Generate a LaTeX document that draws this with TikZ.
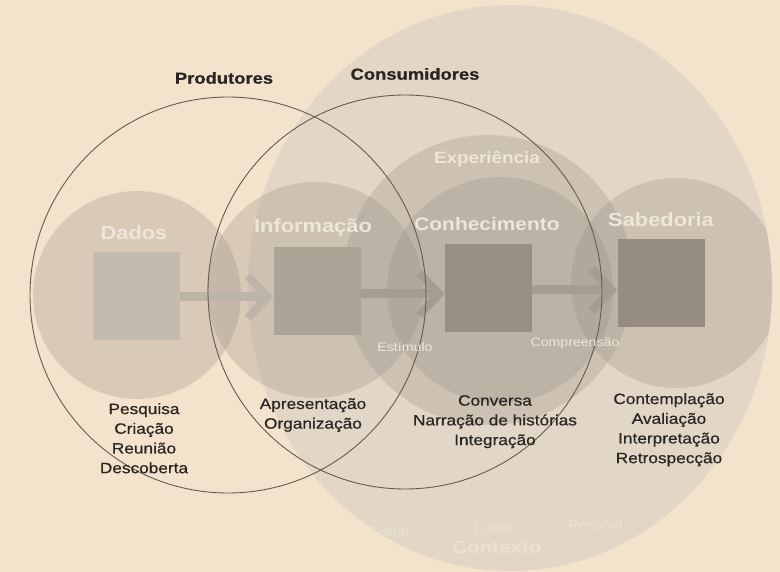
\documentclass[tikz,border=0pt]{standalone}
\usepackage{fontspec}
\setmainfont[FakeStretch=1.15]{Liberation Sans}
\usetikzlibrary{arrows.meta}
\definecolor{bgc}{HTML}{F3E3CC}
\definecolor{ctxc}{HTML}{E2D6C6}
\definecolor{discc}{RGB}{150,140,130}
\definecolor{sqA}{HTML}{C4BAAE}
\definecolor{sqB}{HTML}{ADA296}
\definecolor{sqC}{HTML}{988E84}
\definecolor{sqD}{HTML}{968C82}
\definecolor{arrc}{HTML}{A69C90}
\definecolor{arrl}{HTML}{BDB3A7}
\definecolor{ringc}{RGB}{100,90,80}
\definecolor{darktext}{HTML}{2A2522}
\definecolor{lighttext}{HTML}{EEE6DA}
\tikzset{
  disc/.style={circle, inner sep=0pt, fill=discc, fill opacity=0.28, minimum size=#1},
  ring/.style={circle, inner sep=0pt, draw=ringc, line width=0.9pt, minimum size=#1},
  sqbox/.style={rectangle, inner sep=0pt, minimum width=87pt, minimum height=88pt, fill=#1},
  flow/.style={draw=#1, line width=9pt,
    -{Straight Barb[sharp, length=20pt, width=42pt, line width=8pt]}},
  headlbl/.style={font=\bfseries\fontsize{16}{18}\selectfont\addfontfeature{FakeBold=0.6}, text=darktext, inner sep=0pt},
  stagelbl/.style={font=\bfseries\fontsize{19}{22}\selectfont, text=lighttext, inner sep=0pt},
  sublbl/.style={font=\fontsize{12.3}{14}\selectfont, text=lighttext, inner sep=0pt},
  actlbl/.style={font=\fontsize{15}{19.7}\selectfont\addfontfeature{FakeBold=0.6}, text=darktext, align=center, inner sep=0pt},
  ctxlbl/.style={font=\fontsize{13.3}{15}\selectfont, text=lighttext, text opacity=0.7, inner sep=0pt},
}
\begin{document}
\begin{tikzpicture}[x=1pt, y=-1pt]
\useasboundingbox (0,0) rectangle (780,572);
\fill[bgc] (0,0) rectangle (780,572);
% context
\node[circle, inner sep=0pt, fill=ctxc, minimum size=566pt, xscale=0.926] (ctx) at (510,288) {};
% discs
\node[disc=208pt] (dDados) at (137,295) {};
\node[disc=216pt] (dInfo) at (315,290) {};
\node[disc=290pt] (dExp) at (488,280) {};
\node[disc=226pt] (dConh) at (500,290) {};
\begin{scope}
  \clip (510,288) ellipse [x radius=262pt, y radius=283pt];
  \node[disc=210pt] (dSab) at (676,283) {};
\end{scope}
% squares
\node[sqbox=sqA] (sDados) at (136,296) {};
\node[sqbox=sqB] (sInfo) at (317,291) {};
\node[sqbox=sqC] (sConh) at (488.5,288) {};
\node[sqbox=sqD] (sSab) at (661,283) {};
% arrows
\draw[flow=arrl] ([yshift=-1pt]sDados.east) -- ([yshift=-1pt]sDados.east -| sInfo.west);
\draw[flow=arrc] ([yshift=-3pt]sInfo.east) -- ([yshift=-3pt]sInfo.east -| sConh.west);
\draw[flow=arrc] ([yshift=-2pt]sConh.east) -- ([yshift=-2pt]sConh.east -| sSab.west);
% rings
\node[ring=396pt] (rProd) at (228,295) {};
\node[ring=394pt] (rCons) at (405,292) {};
% head labels
\node[headlbl] (tProd) at (224,78) {Produtores};
\node[headlbl] (tCons) at (415,74) {Consumidores};
% stage labels
\node[stagelbl] (tDados) at (134,233) {Dados};
\node[stagelbl] (tInfo) at (313,228) {Informação};
\node[stagelbl, font=\bfseries\fontsize{16.4}{18}\selectfont] (tExp) at (487,159) {Experiência};
\node[stagelbl, font=\bfseries\fontsize{18.2}{20}\selectfont] (tConh) at (487,224) {Conhecimento};
\node[stagelbl] (tSab) at (661,220) {Sabedoria};
\node[sublbl] (tEst) at (405,347) {Estímulo};
\node[sublbl] (tComp) at (575,343) {Compreensão};
% activities
\node[actlbl, anchor=north] (aDados) at (144,403) {Pesquisa\\Criação\\Reunião\\Descoberta};
\node[actlbl, anchor=north] (aInfo) at (313,398) {Apresentação\\Organização};
\node[actlbl, anchor=north] (aConh) at (495,395) {Conversa\\Narração de histórias\\Integração};
\node[actlbl, anchor=north] (aSab) at (669,393) {Contemplação\\Avaliação\\Interpretação\\Retrospecção};
% context labels
\node[ctxlbl] (cGlob) at (387,532) {Global};
\node[ctxlbl] (cLoc) at (493,528) {Local};
\node[ctxlbl] (cPes) at (595,525) {Pessoal};
\node[ctxlbl, font=\bfseries\fontsize{17.8}{20}\selectfont] (cCtx) at (497,547) {Contexto};
\end{tikzpicture}
\end{document}
